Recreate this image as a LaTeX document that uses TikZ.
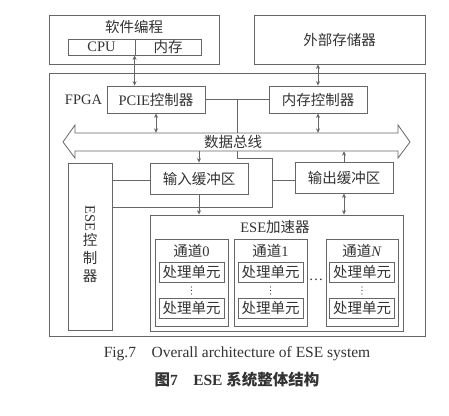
\documentclass[tikz,border=0pt]{standalone}
\usepackage{fontspec}
\setmainfont{Liberation Serif}
\newfontfamily\cjk{Noto Sans CJK SC}
\usetikzlibrary{arrows.meta,calc}
\newcommand\zh[1]{{\cjk #1}}
\definecolor{ln}{HTML}{666666}
\definecolor{tx}{HTML}{333333}
\tikzset{
 box/.style={draw=ln, line width=0.8pt, rectangle, inner sep=0pt, font=\fontsize{14.5}{17}\selectfont, text=tx},
 lbl/.style={inner sep=0pt, font=\fontsize{14.5}{17}\selectfont, text=tx},
 captext/.style={inner sep=0pt, font=\fontsize{15.5}{18}\selectfont, text=tx},
 conn/.style={draw=ln, line width=0.8pt},
 dbl/.style={conn, {Stealth[length=4.5pt,width=4pt]}-{Stealth[length=4.5pt,width=4pt]}},
 one/.style={conn, -{Stealth[length=4.5pt,width=4pt]}},
 pe/.style={box, minimum width=65pt, minimum height=20pt},
 chan/.style={box, minimum width=73pt, minimum height=87pt},
 vdotsnode/.style={inner sep=0pt, minimum width=2pt, minimum height=10pt},
 dotmark/.style={fill=tx},
}
\begin{document}
\begin{tikzpicture}[x=1pt,y=-1pt]
\useasboundingbox[fill=white] (0,0) rectangle (449,415);
% top boxes
\node[box, minimum width=170pt, minimum height=49pt] (sw) at (134,39.5) {};
\node[lbl] (swt) at (134,27) {\zh{软件编程}};
\node[box, minimum width=67pt, minimum height=16pt] (cpu) at (101.5,47) {CPU};
\node[box, minimum width=66pt, minimum height=16pt] (ram) at (168,47) {\zh{内存}};
\node[box, minimum width=171pt, minimum height=49pt] (ext) at (339.5,39.5) {\zh{外部存储器}};
% FPGA
\node[box, minimum width=376pt, minimum height=263pt] (fpga) at (237,204.5) {};
\node[lbl] (fpgat) at (83.5,100) {FPGA};
\node[box, minimum width=98pt, minimum height=27pt] (pcie) at (156,99.5) {PCIE\zh{控制器}};
\node[box, minimum width=98pt, minimum height=27pt] (mc) at (318,99.5) {\zh{内存控制器}};
\node[box, minimum width=98pt, minimum height=31pt] (inbuf) at (199,178.5) {\zh{输入缓冲区}};
\node[box, minimum width=98pt, minimum height=31pt] (outbuf) at (344,177.5) {\zh{输出缓冲区}};
\node[box, minimum width=44pt, minimum height=167pt] (ctrl) at (90,246.5) {};
\node[lbl, align=center, font=\fontsize{14.5}{18}\selectfont] (ctrlt) at (90,244) {\rotatebox{-90}{ESE}\\[1pt]\zh{控}\\\zh{制}\\\zh{器}};
% control lines
\draw[conn] (pcie.east) -- (mc.west);
\coordinate (j1) at (237,99.5);
\coordinate (j2) at (237,158);
\coordinate (j3) at (272,158);
\coordinate (j4) at (272,207);
\draw[conn] (j1) -- (j2) -- (j3) -- (j4) -- (ctrl.east |- j4);
\draw[conn] (ctrl.east |- 0,180) -- (inbuf.west |- 0,180);
\draw[conn] (j3 |- 0,180) -- (outbuf.west |- 0,180);
% data bus
\path[draw=ln, fill=white, line width=0.8pt] (63,142) -- (75,125) -- (75,133) -- (398,133) -- (398,125) -- (410,142) -- (398,158) -- (398,151) -- (75,151) -- (75,158) -- cycle;
\node[inner sep=0pt, minimum width=323pt, minimum height=18pt] (bus) at (236.5,142) {};
\node[lbl] (bust) at (233,142) {\zh{数据总线}};
% accelerator
\node[box, minimum width=253pt, minimum height=116pt] (acc) at (276.5,273) {};
\node[lbl] (acct) at (275,227) {ESE\zh{加速器}};
\node[chan] (ch0) at (191.5,282.5) {};
\node[chan] (ch1) at (270.5,282.5) {};
\node[chan, minimum width=72pt] (chN) at (362,282.5) {};
\node[lbl] (ch0t) at (191.5,251) {\zh{通道}0};
\node[lbl] (ch1t) at (270.5,251) {\zh{通道}1};
\node[lbl] (chNt) at (362,251) {\zh{通道}\textit{N}};
\node[pe] (p0a) at (191.5,272) {\zh{处理单元}};
\node[pe] (p0b) at (191.5,308.5) {\zh{处理单元}};
\node[pe] (p1a) at (270.5,272) {\zh{处理单元}};
\node[pe] (p1b) at (270.5,308.5) {\zh{处理单元}};
\node[pe] (pNa) at (362,272) {\zh{处理单元}};
\node[pe] (pNb) at (362,308.5) {\zh{处理单元}};
\foreach \n/\x in {d0/191.5, d1/270.5, dN/362} {
  \node[vdotsnode] (\n) at (\x,290.5) {};
  \foreach \dy in {-3.5,0,3.5} \fill[dotmark] ($(\n)+(0,\dy)$) circle (0.7pt);
}
\node[lbl] (dh) at (316,280) {\dots};
% arrows
\draw[dbl] (ram.south west) -- (pcie.north -| ram.south west);
\draw[dbl] (mc.north |- ext.south) -- (mc.north);
\draw[dbl] (pcie.south) -- (pcie.south |- bus.north);
\draw[dbl] (mc.south) -- (mc.south |- bus.north);
\draw[one] (inbuf.north |- bus.south) -- (inbuf.north);
\draw[one] (outbuf.north) -- (outbuf.north |- bus.south);
\draw[one] (inbuf.south) -- (inbuf.south |- acc.north);
\draw[dbl] (outbuf.south) -- (outbuf.south |- acc.north);
% captions
\node[captext] (cap1) at (237,354) {Fig.7\quad Overall architecture of ESE system};
\node[captext] (cap2) at (237,380) {\bfseries\zh{图}7\quad ESE \zh{系统整体结构}};
\end{tikzpicture}
\end{document}
